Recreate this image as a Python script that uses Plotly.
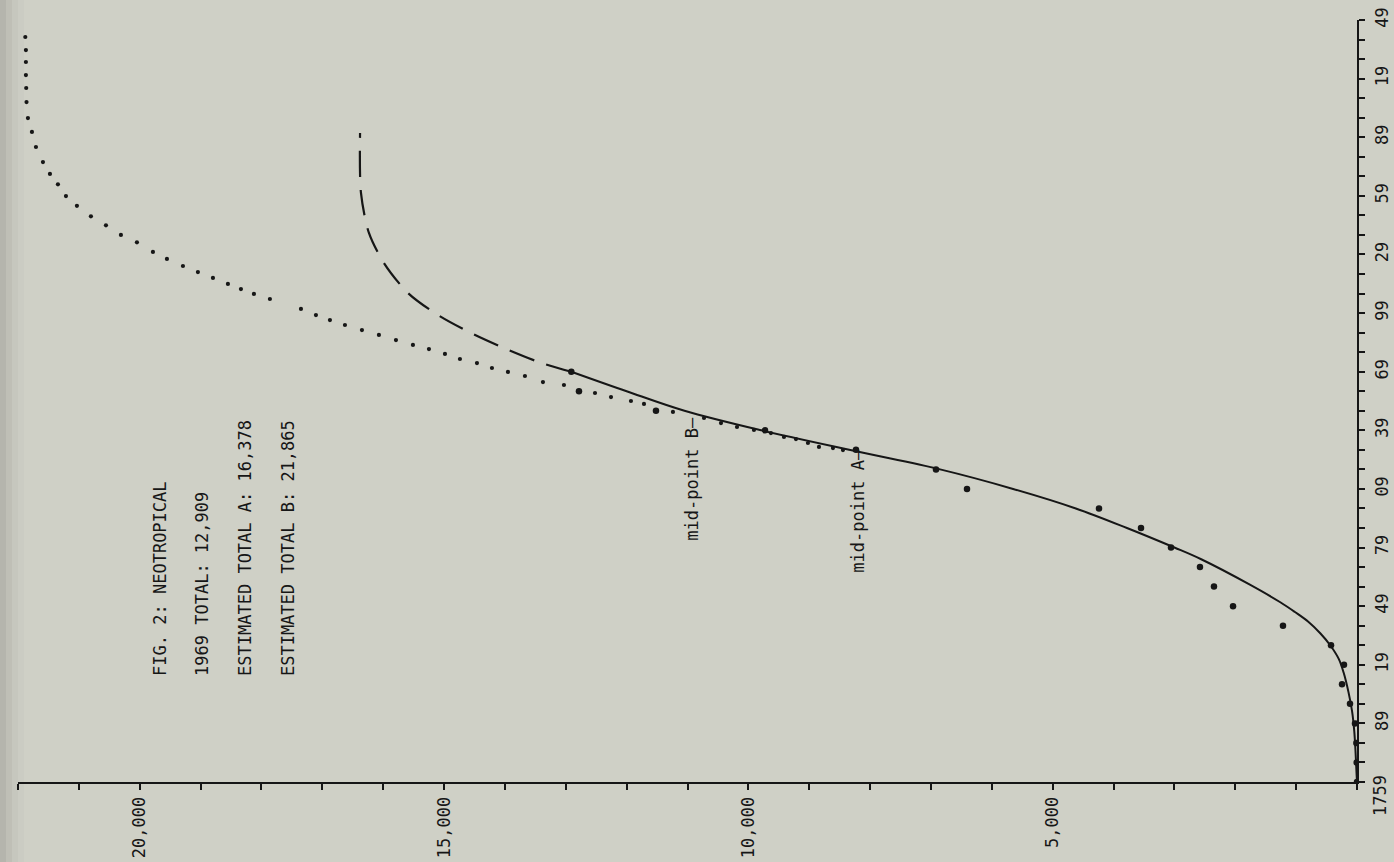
import plotly.graph_objects as go

# Cumulative number of described Neotropical species, by decade
obs_years = [1759, 1769, 1779, 1789, 1799, 1809, 1819, 1829, 1839, 1849, 1859,
             1869, 1879, 1889, 1899, 1909, 1919, 1929, 1939, 1949, 1959, 1969]
obs_counts = [0, 5, 10, 33, 115, 246, 214, 427, 1216, 2037, 2350,
              2580, 3056, 3549, 4239, 6408, 6917, 8232, 9727, 11518, 12783, 12909]

# Fitted curve A (solid part, through 1969)
fit_a_years = [1759, 1765, 1775, 1785, 1795, 1805, 1815, 1822, 1829, 1835, 1841,
               1846, 1851, 1860, 1873, 1879, 1889, 1899, 1909, 1919, 1928, 1939,
               1949, 1959, 1969]
fit_a_counts = [0, 10, 25, 45, 80, 140, 220, 300, 440, 600, 800,
                1020, 1260, 1760, 2560, 3000, 3780, 4620, 5650, 6850, 8190, 9790,
                11050, 12000, 12909]

# Curve A projected beyond 1969 (dashed)
proj_a_years = [1969, 1973.9, 1981.1, 1988.8, 1998.0, 2009.3, 2024.6, 2040.0, 2060.5, 2091.2]
proj_a_counts = [12909, 13440, 14016, 14558, 15100, 15593, 15987, 16234, 16365, 16380]

# Curve B (dotted)
curve_b_years = [2140.3, 2133.6, 2127.5, 2120.8, 2114.2, 2107.0, 2098.8, 2091.7, 2084.0,
                 2076.3, 2070.2, 2064.9, 2058.9, 2053.9, 2048.5, 2043.9, 2039.0, 2035.2,
                 2030.3, 2026.7, 2023.1, 2020.0, 2017.0, 2013.9, 2011.3, 2008.8, 2006.2,
                 2001.1, 1998.0, 1995.4, 1992.9, 1990.3, 1987.8, 1985.2, 1982.7, 1980.6,
                 1978.1, 1975.5, 1973.4, 1970.9, 1968.9, 1966.8, 1963.7, 1962.2, 1958.1,
                 1956.0, 1954.0, 1952.5, 1948.4, 1945.3, 1942.7, 1940.7, 1939.2, 1937.6,
                 1935.6, 1934.5, 1932.5, 1930.5, 1929.9, 1928.9]
curve_b_counts = [21880, 21870, 21870, 21870, 21865, 21860, 21837, 21771, 21705,
                  21590, 21475, 21344, 21212, 21032, 20802, 20555, 20309, 20046,
                  19783, 19553, 19290, 19044, 18797, 18551, 18337, 18124, 17861,
                  17351, 17105, 16875, 16628, 16349, 16070, 15790, 15511, 15248,
                  14985, 14739, 14459, 14213, 13950, 13671, 13375, 13030, 12520,
                  12257, 11929, 11715, 11239, 10729, 10450, 10187, 9908, 9629,
                  9415, 9218, 9021, 8840, 8610, 8446]

total_1969 = 12909
total_a = 16378
total_b = 21865

count_ticks = list(range(0, 22001, 1000))
count_labels = [f"{v:,}" if v and v % 5000 == 0 else "" for v in count_ticks]
year_ticks = list(range(1759, 2150, 10))
# every third tick carries a two-digit year; the first year is written out below the corner
year_labels = [f"{y % 100:02d}" if (y - 1759) % 30 == 0 and y != 1759 else ""
               for y in year_ticks]

INK = "#161616"
BG = "#cfd0c6"
FONT = "DejaVu Sans Mono"
FS = 17

fig = go.Figure()

fig.add_trace(go.Scatter(x=fit_a_counts, y=fit_a_years, mode="lines",
                         line=dict(color=INK, width=2, shape="spline", smoothing=1.0),
                         hoverinfo="skip"))
fig.add_trace(go.Scatter(x=proj_a_counts, y=proj_a_years, mode="lines",
                         line=dict(color=INK, width=2.2, shape="spline", smoothing=0.8,
                                   dash="26px,13px"),
                         hoverinfo="skip"))
fig.add_trace(go.Scatter(x=curve_b_counts, y=curve_b_years, mode="markers",
                         marker=dict(color=INK, size=4.2), hoverinfo="skip"))
fig.add_trace(go.Scatter(x=obs_counts, y=obs_years, mode="markers",
                         marker=dict(color=INK, size=6.5), hoverinfo="skip"))

# Notes, typed sideways
notes = ["FIG. 2: NEOTROPICAL",
         f"1969 TOTAL: {total_1969:,}",
         f"ESTIMATED TOTAL A: {total_a:,}",
         f"ESTIMATED TOTAL B: {total_b:,}"]
note_x = [0.106, 0.1374, 0.1695, 0.2017]
for txt, nx in zip(notes, note_x):
    fig.add_annotation(x=nx, y=0.1365, xref="paper", yref="paper", text=txt,
                       showarrow=False, textangle=-90, xanchor="center", yanchor="bottom",
                       font=dict(family=FONT, size=FS, color=INK))

fig.add_annotation(x=total_a / 2, y=1930.4, text="mid-point A—", showarrow=False,
                   textangle=-90, xanchor="center", yanchor="top",
                   font=dict(family=FONT, size=FS, color=INK))
fig.add_annotation(x=total_b / 2, y=1946.8, text="mid-point B—", showarrow=False,
                   textangle=-90, xanchor="center", yanchor="top",
                   font=dict(family=FONT, size=FS, color=INK))

# First year label, set just below the axis corner
fig.add_annotation(x=1.0, y=1759, xref="paper", yref="y", text=str(year_ticks[0]),
                   showarrow=False, textangle=-90, xanchor="center", yanchor="middle",
                   xshift=23, yshift=-14,
                   font=dict(family=FONT, size=FS, color=INK))

# slightly darker scanned edge along the left border
for i, op in enumerate([0.07, 0.05, 0.035, 0.02]):
    fig.add_shape(type="rect", xref="paper", yref="paper", layer="below",
                  x0=-18 / 1339, x1=(-18 + 6 * (i + 1)) / 1339, y0=-80 / 762, y1=1 + 20 / 762,
                  line=dict(width=0), fillcolor=f"rgba(60,60,50,{op})")

fig.update_layout(
    width=1394, height=862,
    margin=dict(l=18, r=37, t=20, b=80),
    paper_bgcolor=BG, plot_bgcolor=BG,
    showlegend=False,
    xaxis=dict(range=[22000, 0], tickmode="array", tickvals=count_ticks, ticktext=count_labels,
               tickangle=-90, ticks="outside", ticklen=6, tickwidth=2, tickcolor=INK,
               showline=True, linecolor=INK, linewidth=2, showgrid=False, zeroline=False,
               automargin=False,
               tickfont=dict(family=FONT, size=FS, color=INK)),
    yaxis=dict(range=[1759, 2149], side="right", tickmode="array", tickvals=year_ticks,
               ticktext=year_labels, tickangle=-90, ticks="outside", ticklen=6, tickwidth=2,
               tickcolor=INK, showline=True, linecolor=INK, linewidth=2, showgrid=False,
               zeroline=False, ticklabelstandoff=3, automargin=False,
               tickfont=dict(family=FONT, size=FS, color=INK)),
)

fig.write_html("out.html")
